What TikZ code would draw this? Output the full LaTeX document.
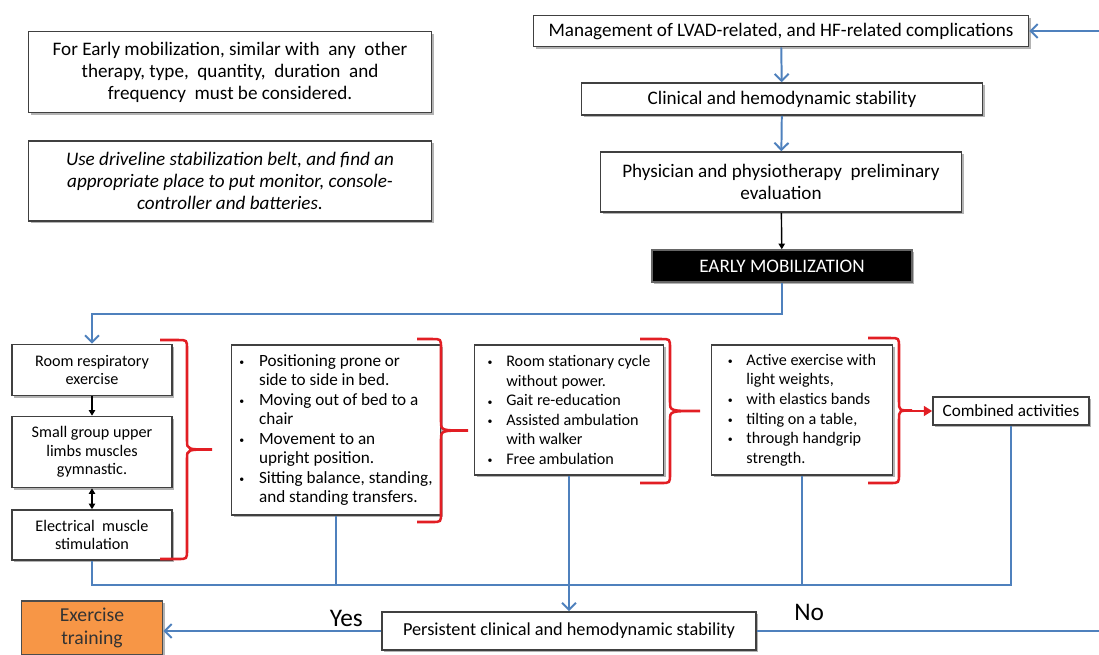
\documentclass[tikz,border=0pt]{standalone}
\usepackage{fontspec}
\setmainfont{Carlito}
\usetikzlibrary{arrows.meta,shadows}

\definecolor{linkblue}{RGB}{79,129,189}
\definecolor{bracered}{RGB}{226,30,36}
\definecolor{exorange}{RGB}{247,150,70}

\tikzset{
  box/.style={draw=black!75, line width=1.1pt, fill=white, align=center,
    inner sep=2pt, font=\fontsize{11.5}{13.2}\selectfont,
    drop shadow={shadow xshift=1.6pt, shadow yshift=-1.6pt, fill=black!50, opacity=.6}},
  sz/.style 2 args={minimum width=#1*0.025cm, minimum height=#2*0.025cm},
  bigtext/.style={font=\fontsize{13.6}{15.6}\selectfont},
  listbox/.style={box, align=left, font=\fontsize{11.5}{13.9}\selectfont},
  bline/.style={draw=linkblue, line width=1.4pt},
  barrow/.style={bline, -{Straight Barb[length=5pt,width=10pt]}},
  karrow/.style={draw=black, line width=1pt, -{Triangle[length=4pt,width=4.5pt]}},
  bracestyle/.style={draw=bracered, line width=1.8pt},
  rarrow/.style={bracestyle, -{Triangle[length=6pt,width=7pt]}}
}

% bullet line and its continuation
\newcommand{\bitem}[1]{\makebox[1.15em][l]{\raisebox{0.5pt}{\scriptsize\textbullet}}#1}
\newcommand{\bcont}[1]{\hspace*{1.15em}#1}
% red brace: left end x, vertical x, top y, bottom y, tip x
\newcommand{\redbrace}[5]{%
  \draw[bracestyle] (#1,#3) -- ({#2-9},#3) .. controls (#2,#3) .. (#2,{#3+9})
    -- (#2,{(#3+#4)/2-9}) .. controls (#2,{(#3+#4)/2}) .. (#5,{(#3+#4)/2})
    .. controls (#2,{(#3+#4)/2}) .. (#2,{(#3+#4)/2+9})
    -- (#2,{#4-9}) .. controls (#2,#4) .. ({#2-9},#4) -- (#1,#4);}

\begin{document}
\begin{tikzpicture}[x=0.025cm,y=-0.025cm]
  \useasboundingbox (0,0) rectangle (1099,654);

  % notes
  \node[box, sz={403}{81}, bigtext] (note1) at (230,72)
    {For Early mobilization, similar with\ \ any\ \ other\\
     therapy, type,\ \ quantity,\ \ duration\ \ and\\
     frequency\ \ must be considered.};
  \node[box, sz={403}{80}, font=\fontsize{13.6}{15.6}\selectfont\itshape] (note2) at (230,181)
    {Use driveline stabilization belt, and find an\\
     appropriate place to put monitor, console-\\
     controller and batteries.};

  % main column
  \node[box, sz={495}{31}, bigtext] (mgmt) at (781,31)
    {Management of LVAD-related, and HF-related complications};
  \node[box, sz={401}{32}, bigtext] (clin) at (782,99) {Clinical and hemodynamic stability};
  \node[box, sz={361}{60}, bigtext] (phys) at (781,182)
    {Physician and physiotherapy\ \ preliminary\\ evaluation};
  \node[box, sz={260}{32}, bigtext, fill=black, text=white, draw=black!60] (early) at (782,266)
    {EARLY MOBILIZATION};

  % activity boxes
  \node[box, sz={160}{51}] (room) at (92,370) {Room respiratory\\ exercise};
  \node[box, sz={160}{71}] (small) at (92,452) {Small group upper\\ limbs muscles\\ gymnastic.};
  \node[box, sz={160}{50}] (elec) at (92,535) {Electrical\ \ muscle\\ stimulation};
  \node[listbox, sz={209}{170}, font=\fontsize{12.2}{13.9}\selectfont] (bed) at (336,430)
    {\bitem{Positioning\ prone\ or}\\ \bcont{side\ to\ side\ in\ bed.}\\
     \bitem{Moving out\ of\ bed to a}\\ \bcont{chair}\\
     \bitem{Movement to\ an}\\ \bcont{upright\ position.}\\
     \bitem{Sitting balance, standing,}\\ \bcont{and standing transfers.}};
  \node[listbox, sz={189}{130}] (walk) at (569,410)
    {\bitem{Room stationary cycle}\\ \bcont{without power.}\\
     \bitem{Gait re-education}\\
     \bitem{Assisted ambulation}\\ \bcont{with walker}\\
     \bitem{Free ambulation}};
  \node[listbox, sz={181}{130}] (force) at (802,410)
    {\bitem{Active exercise with}\\ \bcont{light\ weights,}\\
     \bitem{with elastics bands}\\
     \bitem{tilting\ on\ a table,}\\
     \bitem{through handgrip}\\ \bcont{strength.}};
  \node[box, sz={156}{28}, font=\fontsize{12.2}{14}\selectfont] (comb) at (1011,411) {Combined activities};

  % outcome
  \node[box, sz={374}{38}, font=\fontsize{13}{15}\selectfont] (pers) at (569,631)
    {Persistent clinical and hemodynamic stability};
  \node[box, sz={141}{54}, fill=exorange, draw=black!70, text=black!80,
    font=\fontsize{14}{16}\selectfont] (exer) at (92,628) {Exercise\\ training};

  % braces
  \redbrace{160}{187}{340}{559}{212}
  \redbrace{417}{441}{339}{522}{468}
  \redbrace{640}{670}{339}{483}{700}
  \redbrace{868}{899}{338}{483}{912}
  \coordinate (tip4) at (910,411);
  \draw[rarrow] (tip4) -- (comb.west);

  % connectors
  \draw[barrow] (mgmt) -- (clin);
  \draw[barrow] (clin) -- (phys);
  \draw[karrow] (phys) -- (early);
  \draw[barrow] (early.south) -- ++(0,31) -| (room.north);
  \draw[karrow] (room) -- (small);
  \draw[karrow, {Triangle[length=4pt,width=4.5pt]}-{Triangle[length=4pt,width=4.5pt]}] (small) -- (elec);

  \coordinate (join) at (569,585);
  \draw[bline] (elec.south) |- (join) -| (comb.south);
  \draw[bline] (bed.south) -- (bed.south |- join);
  \draw[bline] (force.south) -- (force.south |- join);
  \draw[barrow] (walk.south) -- (pers.north);

  \draw[barrow] (pers.west) -- node[pos=0.16, above=-1pt, font=\fontsize{18}{20}\selectfont] {Yes}
    (pers.west -| exer.east);
  \coordinate (back) at (1106,631);
  \draw[barrow] (pers.east) -- node[pos=0.15, above=3pt, font=\fontsize{18}{20}\selectfont] {No}
    (back) |- (mgmt.east);
\end{tikzpicture}
\end{document}
